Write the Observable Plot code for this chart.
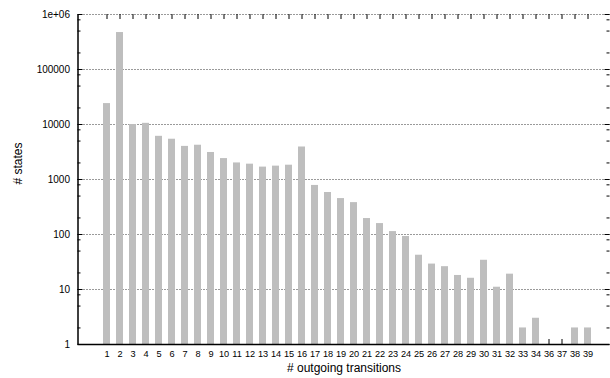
<!DOCTYPE html>
<html>
<head>
<meta charset="utf-8">
<script src="https://cdn.jsdelivr.net/npm/d3@7"></script>
<script src="https://cdn.jsdelivr.net/npm/@observablehq/plot@0.6"></script>
<style>
  html, body { margin: 0; padding: 0; background: #fff; }
</style>
</head>
<body>
<div id="chart"></div>
<script>
// Categories (number of outgoing transitions; 35 is absent)
const labels = ["1","2","3","4","5","6","7","8","9","10","11","12","13","14","15","16","17","18","19","20",
  "21","22","23","24","25","26","27","28","29","30","31","32","33","34","36","37","38","39"];
// Number of states per category
const counts = [24000, 470000, 10000, 10500, 6100, 5400, 4000, 4200, 3100, 2400, 2000, 1900, 1680, 1750, 1820, 3900,
  780, 580, 450, 380, 195, 158, 113, 92, 42, 29, 26, 18, 16, 34, 11, 19, 2, 3, 1, 1, 2, 2];
// Y axis ticks
const yMajor = [1, 10, 100, 1000, 10000, 100000, 1000000];
const yMajorLabels = ["1", "10", "100", "1000", "10000", "100000", "1e+06"];
const yMinor = [2, 5, 8, 20, 50, 80, 200, 500, 800, 2000, 5000, 8000, 20000, 50000, 80000, 200000, 500000, 800000];
const yGrid = [10, 100, 1000, 10000, 100000, 1000000];

const data = labels.map((l, i) => ({label: l, count: counts[i]}));

const W = 610, H = 378;
const mL = 77.5, mR = 0.5, mT = 14, mB = 34;
const pw = W - mL - mR, ph = H - mT - mB;
const font = "'Liberation Sans', Arial, Helvetica, sans-serif";

const chart = Plot.plot({
  width: W,
  height: H,
  marginLeft: mL, marginRight: mR, marginTop: mT, marginBottom: mB,
  style: {fontFamily: font, background: "#fff", color: "#000", overflow: "visible"},
  x: {type: "band", domain: labels, paddingInner: 0.49, paddingOuter: 0.66, align: 0.58, axis: null},
  y: {type: "log", domain: [1, 1000000], axis: null},
  marks: [
    // dotted gridlines
    Plot.ruleY(yGrid, {stroke: "#000", strokeWidth: 0.8, strokeDasharray: "1,2"}),
    // x ticks bottom (inward), hidden behind bars
    Plot.tickX(labels, {x: d => d, insetTop: ph - 5, stroke: "#000", strokeWidth: 1}),
    // bars
    Plot.barY(data, {x: "label", y1: 1, y2: "count", fill: "#bebebe"}),
    // axis lines (left and bottom)
    Plot.frame({insetRight: pw - 0.75, insetLeft: -0.75, fill: "#000", stroke: "none"}),
    Plot.ruleY([1], {stroke: "#000", strokeWidth: 1.5}),
    // x ticks top (mirrored)
    Plot.tickX(labels, {x: d => d, insetBottom: ph - 5, stroke: "#000", strokeWidth: 1}),
    // y major ticks left and right
    Plot.tickY(yMajor, {y: d => d, insetRight: pw - 5, stroke: "#000", strokeWidth: 1}),
    Plot.tickY(yMajor, {y: d => d, insetLeft: pw - 5, stroke: "#000", strokeWidth: 1}),
    // y minor ticks left and right
    Plot.tickY(yMinor, {y: d => d, insetRight: pw - 3, stroke: "#000", strokeWidth: 1}),
    Plot.tickY(yMinor, {y: d => d, insetLeft: pw - 3, stroke: "#000", strokeWidth: 1}),
    // y tick labels
    Plot.text(yMajor, {y: d => d, text: (d, i) => yMajorLabels[i], frameAnchor: "left", dx: -8, textAnchor: "end", fontSize: 10, fill: "#000"}),
    // x tick labels
    Plot.text(labels, {x: d => d, text: d => d, frameAnchor: "bottom", dy: 12.5, fontSize: 9.2, fill: "#000"}),
    // axis titles
    Plot.text(["# outgoing transitions"], {text: d => d, frameAnchor: "bottom", dy: 27, fontSize: 12, fill: "#000"}),
    Plot.text(["# states"], {text: d => d, frameAnchor: "left", rotate: -90, dx: -59.5, dy: 5, fontSize: 12, fill: "#000"})
  ]
});

document.getElementById("chart").appendChild(chart);
</script>
</body>
</html>
